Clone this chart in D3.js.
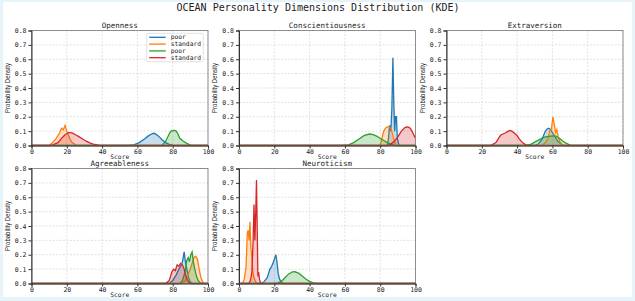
<!DOCTYPE html>
<meta charset="utf-8" />
<style>
  body { margin: 0; background: #e6f3f8; overflow: hidden; }
  svg { display: block; }
  text { font-family: "DejaVu Sans Mono", monospace; fill: #222; }
</style>
<body>
<svg id="chart"></svg>
<script src="https://cdnjs.cloudflare.com/ajax/libs/d3/7.8.5/d3.min.js"></script>
<script>
var width = 635, height = 301;

var mainTitle = "OCEAN Personality Dimensions Distribution (KDE)";
var dimensions = ["Openness", "Conscientiousness", "Extraversion", "Agreeableness", "Neuroticism"];
var seriesNames = ["poor", "standard", "poor", "standard"];
var colours = ["#1f77b4", "#ff7f0e", "#2ca02c", "#d62728"];
var xTicks = [0, 20, 40, 60, 80, 100];
var yTicks = [0, 0.1, 0.2, 0.3, 0.4, 0.5, 0.6, 0.7, 0.8];

// KDE curves, [score, density]
var openness = [
  [[55,0],[58,0.005],[61,0.02],[64,0.045],[66,0.065],[68,0.08],[69,0.085],[70,0.082],[72,0.065],[74,0.04],[76,0.02],[78,0.008],[80,0.002],[82,0]],
  [[10,0],[12,0.02],[14,0.05],[16,0.09],[17,0.12],[18,0.11],[19,0.14],[20,0.1],[21,0.07],[22,0.04],[23,0.02],[25,0.005],[26,0]],
  [[74,0],[76,0.03],[78,0.08],[79,0.1],[80,0.103],[81,0.105],[82,0.1],[83,0.08],[84,0.05],[86,0.03],[88,0.015],[90,0.003],[91,0]],
  [[10,0],[12,0.005],[15,0.02],[17,0.05],[19,0.075],[21,0.09],[23,0.088],[25,0.075],[27,0.06],[29,0.045],[31,0.03],[33,0.018],[35,0.01],[38,0.003],[40,0]]
];
var conscientiousness = [
  [[84,0],[84.7,0.05],[85.3,0.14],[86,0.1],[86.6,0.25],[87.2,0.61],[87.7,0.3],[88.2,0.1],[88.7,0.2],[89.2,0.2],[89.7,0.05],[90.5,0.01],[91,0]],
  [[80,0],[81,0.05],[82,0.1],[83,0.12],[84,0.13],[85,0.13],[86,0.12],[87,0.08],[88,0.03],[89,0]],
  [[58,0],[62,0.005],[65,0.02],[68,0.045],[71,0.07],[74,0.08],[76,0.075],[78,0.065],[80,0.05],[82,0.035],[84,0.02],[86,0.01],[88,0.003],[90,0]],
  [[84,0],[86,0.01],[88,0.03],[90,0.06],[92,0.1],[94,0.125],[95,0.13],[96,0.128],[97,0.12],[98,0.1],[99,0.075],[100,0.05]]
];
var extraversion = [
  [[50,0],[52,0.01],[54,0.04],[56,0.1],[57,0.115],[58,0.12],[59,0.11],[60,0.09],[61,0.07],[62,0.05],[63,0.03],[65,0.01],[66,0]],
  [[54,0],[56,0.02],[57.5,0.05],[58.5,0.1],[59.5,0.12],[60.3,0.2],[61,0.15],[61.8,0.09],[62.5,0.11],[63.3,0.06],[64.5,0.02],[66,0]],
  [[45,0],[48,0.01],[51,0.03],[54,0.05],[56,0.06],[58,0.063],[60,0.066],[62,0.065],[64,0.05],[66,0.03],[68,0.015],[70,0.003],[71,0]],
  [[25,0],[28,0.02],[30,0.06],[31,0.075],[33,0.085],[35,0.1],[36,0.105],[37,0.1],[38,0.09],[40,0.07],[41,0.05],[43,0.02],[45,0.005],[47,0]]
];
var agreeableness = [
  [[78,0],[80,0.02],[82,0.06],[83.5,0.1],[84.5,0.12],[85.5,0.15],[86.5,0.22],[87.2,0.15],[88,0.1],[89,0.04],[90,0.01],[91,0]],
  [[85,0],[87,0.02],[88.5,0.06],[90,0.1],[91,0.14],[92,0.18],[93,0.19],[94,0.17],[95,0.1],[96,0.04],[97,0.01],[98,0]],
  [[84,0],[85.5,0.02],[87,0.08],[88,0.16],[88.8,0.18],[89.5,0.15],[90.3,0.2],[91,0.22],[91.7,0.15],[92.5,0.1],[93.5,0.05],[94.5,0.02],[96,0]],
  [[76,0],[78,0.02],[79.5,0.08],[80.5,0.1],[81.5,0.09],[82.5,0.13],[83.5,0.12],[84.5,0.14],[85.5,0.13],[86.5,0.1],[87.5,0.05],[88.5,0.02],[90,0]]
];
var neuroticism = [
  [[12,0],[14,0.01],[16,0.04],[17.5,0.1],[18.5,0.12],[19.5,0.15],[20.3,0.18],[20.9,0.2],[21.5,0.15],[22.2,0.07],[23,0.03],[24,0.01],[25.5,0]],
  [[2,0],[3,0.03],[4,0.12],[4.7,0.35],[5.2,0.37],[5.7,0.3],[6.2,0.43],[6.7,0.25],[7.2,0.2],[7.8,0.08],[8.5,0.04],[9.5,0.01],[10.5,0]],
  [[19,0],[22,0.005],[24,0.015],[26,0.04],[28,0.065],[30,0.08],[31,0.082],[32,0.08],[34,0.07],[36,0.05],[38,0.03],[40,0.015],[42,0.005],[44,0]],
  [[5.5,0],[6.5,0.02],[7.3,0.08],[8,0.3],[8.5,0.55],[9,0.3],[9.5,0.5],[9.9,0.72],[10.3,0.4],[10.7,0.05],[11.1,0.08],[11.6,0.03],[12.3,0]]
];
var panelData = [openness, conscientiousness, extraversion, agreeableness, neuroticism];

var colLeft = [31.5, 239, 446.5], rowTop = [30.5, 168.5];
var pw = 176.5, ph = 115;

var svg = d3.select("#chart").attr("width", width).attr("height", height);
svg.append("rect").attr("x", 3).attr("y", 2).attr("width", 629).attr("height", 295).attr("fill", "white");

svg.append("text").attr("x", 318).attr("y", 10.5).attr("text-anchor", "middle")
  .style("font-size", "10px").text(mainTitle);

var defs = svg.append("defs");

dimensions.forEach(function(name, i) {
  var left = colLeft[i % 3], top = rowTop[Math.floor(i / 3)];
  var g = svg.append("g").attr("transform", "translate(" + left + "," + top + ")");

  var x = d3.scaleLinear().domain([0, 100]).range([0, pw]);
  var y = d3.scaleLinear().domain([0, 0.8]).range([ph, 0]);

  // grid
  g.append("g").selectAll("line").data(xTicks).enter().append("line")
    .attr("x1", d => x(d)).attr("x2", d => x(d)).attr("y1", 0).attr("y2", ph)
    .attr("stroke", "#ccc").attr("stroke-width", 0.6).attr("stroke-dasharray", "2,1.5");
  g.append("g").selectAll("line").data(yTicks).enter().append("line")
    .attr("y1", d => y(d)).attr("y2", d => y(d)).attr("x1", 0).attr("x2", pw)
    .attr("stroke", "#ccc").attr("stroke-width", 0.6).attr("stroke-dasharray", "2,1.5");

  defs.append("clipPath").attr("id", "clip" + i).append("rect")
    .attr("width", pw).attr("height", ph + 1);

  var area = d3.area().x(d => x(d[0])).y0(y(0)).y1(d => y(d[1]));
  var line = d3.line().x(d => x(d[0])).y(d => y(d[1]));
  var plot = g.append("g").attr("clip-path", "url(#clip" + i + ")");

  panelData[i].forEach(function(pts, k) {
    var full = [[0, 0]].concat(pts);
    if (pts[pts.length - 1][0] < 100) full.push([100, 0]);
    plot.append("path").datum(pts).attr("d", area)
      .attr("fill", colours[k]).attr("fill-opacity", 0.25);
    plot.append("path").datum(full).attr("d", line)
      .attr("fill", "none").attr("stroke", colours[k]).attr("stroke-width", 1.3);
  });

  // frame
  g.append("rect").attr("width", pw).attr("height", ph)
    .attr("fill", "none").attr("stroke", "#777").attr("stroke-width", 0.8);

  var xAxis = g.append("g").attr("transform", "translate(0," + ph + ")")
    .call(d3.axisBottom(x).tickValues(xTicks).tickSize(3).tickPadding(1).tickFormat(d3.format("d")));
  var yAxis = g.append("g")
    .call(d3.axisLeft(y).tickValues(yTicks).tickSize(3).tickPadding(2).tickFormat(d3.format(".1f")));
  [xAxis, yAxis].forEach(function(a) {
    a.select(".domain").attr("stroke", "#333").attr("stroke-width", 1);
    a.selectAll(".tick line").attr("stroke", "#333");
    a.selectAll("text").style("font-size", "6.5px").style("font-family", "'DejaVu Sans Mono', monospace").attr("fill", "#222");
  });

  g.append("text").attr("x", pw / 2).attr("y", -2.2).attr("text-anchor", "middle")
    .style("font-size", "7.5px").text(name);
  g.append("text").attr("x", pw / 2).attr("y", ph + 13.2).attr("text-anchor", "middle")
    .style("font-size", "6.3px").text("Score");
  g.append("text").attr("transform", "translate(" + (-22) + "," + (ph / 2) + ") rotate(-90)")
    .attr("text-anchor", "middle").attr("textLength", 50).attr("lengthAdjust", "spacingAndGlyphs")
    .style("font-size", "6.5px").style("font-family", "'Liberation Sans Narrow', 'Liberation Sans', sans-serif")
    .text("Probability Density");

  if (i === 0) {
    var lg = g.append("g").attr("transform", "translate(" + (146.7 - left) + "," + (33.3 - top) + ")");
    lg.append("rect").attr("width", 56.5).attr("height", 28.4).attr("rx", 1.5)
      .attr("fill", "white").attr("fill-opacity", 0.85).attr("stroke", "#ccc").attr("stroke-width", 0.6);
    seriesNames.forEach(function(s, k) {
      var yy = 4 + k * 6.8;
      lg.append("line").attr("x1", 2.5).attr("x2", 19).attr("y1", yy).attr("y2", yy)
        .attr("stroke", colours[k]).attr("stroke-width", 1.3);
      lg.append("text").attr("x", 24).attr("y", yy + 2.2).style("font-size", "6.3px").text(s);
    });
  }
});
</script>
</body>
